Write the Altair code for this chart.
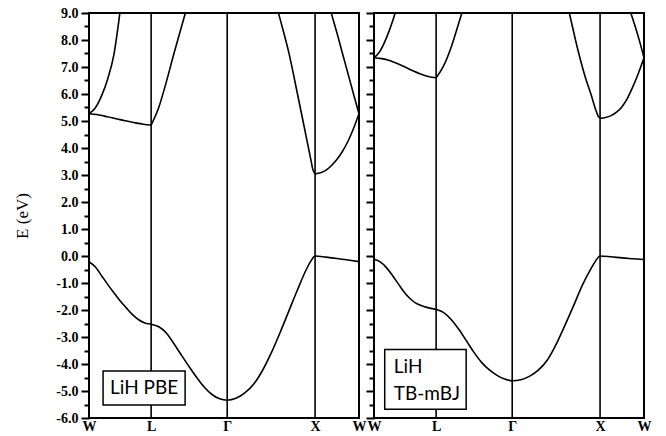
import altair as alt
import pandas as pd

# fcc high-symmetry path W–L–Γ–X–W, cumulative |k| in units of 2π/a
K_LABELS = ["W", "L", "Γ", "X", "W"]
K_NODES = [0.0, 0.7071, 1.5731, 2.5731, 3.0731]

# energy ticks (eV)
E_MAJOR = [-6.0, -5.0, -4.0, -3.0, -2.0, -1.0, 0.0, 1.0, 2.0, 3.0, 4.0, 5.0, 6.0, 7.0, 8.0, 9.0]

# fractional positions along a path segment
F10 = [0.0, 0.1, 0.2, 0.3, 0.4, 0.5, 0.6, 0.7, 0.8, 0.9, 1.0]
F8 = [0.0, 0.125, 0.25, 0.375, 0.5, 0.625, 0.75, 0.875, 1.0]
F_GX = [0.0, 0.1, 0.2, 0.3, 0.4, 0.5, 0.6, 0.7, 0.8, 0.9, 0.95, 1.0]
F_XW = [0.0, 0.25, 0.5, 0.75, 1.0]

# ---- LiH, PBE ----
PBE_VB_WL = [-0.21, -0.40, -0.72, -1.05, -1.36, -1.66, -1.92, -2.17, -2.36, -2.48, -2.53]
PBE_VB_LG = [-2.53, -2.62, -2.85, -3.25, -3.68, -4.10, -4.50, -4.86, -5.13, -5.29, -5.34]
PBE_VB_GX = [-5.34, -5.27, -5.07, -4.75, -4.25, -3.60, -2.85, -2.05, -1.25, -0.50, -0.20, 0.0]
PBE_VB_XW = [0.0, -0.04, -0.09, -0.15, -0.21]

PBE_CB_WL_LOW = [5.27, 5.24, 5.18, 5.12, 5.05, 4.99, 4.93, 4.88, 4.85]
PBE_F_WL_UP = [0.0, 0.1, 0.2, 0.3, 0.4, 0.5, 0.52]
PBE_CB_WL_UP = [5.27, 5.48, 5.92, 6.55, 7.45, 9.05, 9.4]
PBE_F_LG = [0.0, 0.1, 0.2, 0.3, 0.4, 0.5]
PBE_CB_LG = [4.85, 5.5, 6.45, 7.5, 8.5, 9.5]
PBE_F_GX_CB = [0.55, 0.6, 0.7, 0.8, 0.9, 0.95, 0.975, 1.0]
PBE_CB_GX = [9.4, 8.8, 7.55, 6.0, 4.4, 3.6, 3.2, 3.04]
PBE_CB_XW = [3.04, 3.08, 3.18, 3.35, 3.58, 3.88, 4.25, 4.72, 5.27]
PBE_F_WX = [0.3, 0.4, 0.5, 0.6, 0.7, 0.8, 0.9, 1.0]
PBE_CB_WX = [9.4, 8.82, 8.25, 7.65, 7.05, 6.45, 5.85, 5.27]

# ---- LiH, TB-mBJ ----
MBJ_VB_WL = [-0.12, -0.22, -0.43, -0.73, -1.06, -1.38, -1.62, -1.78, -1.87, -1.93, -1.98]
MBJ_VB_LG = [-1.98, -2.10, -2.36, -2.72, -3.15, -3.58, -3.95, -4.22, -4.42, -4.56, -4.62]
MBJ_VB_GX = [-4.62, -4.58, -4.45, -4.22, -3.85, -3.27, -2.57, -1.83, -1.07, -0.45, -0.18, 0.0]
MBJ_VB_XW = [0.0, -0.03, -0.07, -0.10, -0.13]

MBJ_CB_WL_LOW = [7.34, 7.31, 7.24, 7.13, 7.0, 6.86, 6.74, 6.65, 6.6]
MBJ_F_WL_UP = [0.0, 0.1, 0.2, 0.3, 0.36]
MBJ_CB_WL_UP = [7.34, 7.6, 8.08, 8.7, 9.15]
MBJ_F_LG = [0.0, 0.1, 0.2, 0.3, 0.36]
MBJ_CB_LG = [6.6, 7.05, 7.75, 8.65, 9.2]
MBJ_F_GX_CB = [0.6, 0.65, 0.75, 0.83, 0.9, 0.95, 0.975, 1.0]
MBJ_CB_GX = [9.7, 9.0, 7.6, 6.64, 5.95, 5.42, 5.2, 5.1]
MBJ_CB_XW = [5.1, 5.13, 5.2, 5.33, 5.53, 5.85, 6.28, 6.78, 7.34]
MBJ_F_WX = [0.65, 0.7, 0.8, 0.9, 1.0]
MBJ_CB_WX = [9.25, 9.0, 8.5, 7.95, 7.34]

SERIF = "Liberation Serif"
SANS = "Lato"


def seg_k(seg, fracs):
    a, b = K_NODES[seg], K_NODES[seg + 1]
    return [a + f * (b - a) for f in fracs]


def piece(name, seg, fracs, energies):
    return pd.DataFrame({"band": name, "k": seg_k(seg, fracs), "E": energies})


def valence(name, wl, lg, gx, xw):
    parts = [
        piece(name, 0, F10, wl),
        piece(name, 1, F10[1:], lg[1:]),
        piece(name, 2, F_GX[1:], gx[1:]),
        piece(name, 3, F_XW[1:], xw[1:]),
    ]
    return pd.concat(parts, ignore_index=True)


pbe = pd.concat([
    valence("vb", PBE_VB_WL, PBE_VB_LG, PBE_VB_GX, PBE_VB_XW),
    piece("c1", 0, F8, PBE_CB_WL_LOW),
    piece("c2", 0, PBE_F_WL_UP, PBE_CB_WL_UP),
    piece("c3", 1, PBE_F_LG, PBE_CB_LG),
    piece("c4", 2, PBE_F_GX_CB, PBE_CB_GX),
    piece("c5", 3, F8, PBE_CB_XW),
    piece("c6", 3, PBE_F_WX, PBE_CB_WX),
], ignore_index=True)

mbj = pd.concat([
    valence("vb", MBJ_VB_WL, MBJ_VB_LG, MBJ_VB_GX, MBJ_VB_XW),
    piece("c1", 0, F8, MBJ_CB_WL_LOW),
    piece("c2", 0, MBJ_F_WL_UP, MBJ_CB_WL_UP),
    piece("c3", 1, MBJ_F_LG, MBJ_CB_LG),
    piece("c4", 2, MBJ_F_GX_CB, MBJ_CB_GX),
    piece("c5", 3, F8, MBJ_CB_XW),
    piece("c6", 3, MBJ_F_WX, MBJ_CB_WX),
], ignore_index=True)

# label boxes, in (k, E) coordinates
pbe_box = pd.DataFrame({"k1": [0.16], "k2": [1.094], "E1": [-5.52], "E2": [-4.26]})
pbe_text = pd.DataFrame({"k": [0.627], "E": [-4.89], "t": ["LiH PBE"]})
mbj_box = pd.DataFrame({"k1": [0.122], "k2": [1.049], "E1": [-5.68], "E2": [-3.46]})
mbj_text = pd.DataFrame({"k": [0.225, 0.225], "E": [-4.34, -5.33], "t": ["LiH", "TB-mBJ"]})

E_MINOR = sorted(set(E_MAJOR + [e + 0.5 for e in E_MAJOR[:-1]]))

k_label_expr = ""
for kv, lab in zip(K_NODES[:-1], K_LABELS[:-1]):
    k_label_expr += f"datum.value < {kv + 0.05} ? '{lab}' : "
k_label_expr += f"'{K_LABELS[-1]}'"

x_scale = alt.Scale(domain=[K_NODES[0], K_NODES[-1]], nice=False, zero=False)
y_scale = alt.Scale(domain=[E_MAJOR[0], E_MAJOR[-1]], nice=False, zero=False)

x_axis = alt.Axis(
    values=K_NODES, labelExpr=k_label_expr, tickSize=0, labelPadding=1,
    labelFont=SERIF, labelFontSize=14, labelFontWeight="bold", labelColor="black",
    labelFlush=False, labelOverlap=False, domain=False, grid=False, title=None,
)

# half-step ticks are drawn shorter through a dash pattern
tick_dash = {"condition": {"test": "datum.value % 1 !== 0", "value": [5, 20]}, "value": [20, 0]}
e_label_expr = ("datum.value % 1 === 0 ? (datum.value < 0 ? '-' : '') + "
                "format(abs(datum.value), '.1f') : ''")


def y_axis(with_labels):
    common = dict(
        values=E_MINOR, tickSize=8, tickDash=tick_dash, tickWidth=2, tickColor="black",
        domain=False, grid=False, labelOverlap=False,
    )
    if with_labels:
        return alt.Axis(
            labelExpr=e_label_expr, labelFont=SERIF, labelFontSize=14,
            labelFontWeight="bold", labelColor="black", labelPadding=3,
            title="E (eV)", titleFont=SERIF, titleFontSize=17,
            titleFontWeight="normal", titleColor="black", titlePadding=24,
            **common,
        )
    return alt.Axis(labels=False, title=None, **common)


def panel(bands, box, text, with_labels, text_align):
    ya = y_axis(with_labels)

    def kx(field):
        return alt.X(field, type="quantitative", scale=x_scale, axis=x_axis, title=None)

    def ey(field):
        return alt.Y(field, type="quantitative", scale=y_scale, axis=ya,
                     title="E (eV)" if with_labels else None)

    rules = alt.Chart(pd.DataFrame({"k": K_NODES[1:4]})).mark_rule(
        color="black", strokeWidth=1.6
    ).encode(x=kx("k"))
    lines = alt.Chart(bands).mark_line(
        color="black", strokeWidth=1.6, interpolate="monotone", clip=True
    ).encode(x=kx("k"), y=ey("E"), detail="band:N")
    rect = alt.Chart(box).mark_rect(
        fill="white", stroke="black", strokeWidth=1.5
    ).encode(x=kx("k1"), x2="k2", y=ey("E1"), y2="E2")
    label = alt.Chart(text).mark_text(
        font=SANS, fontSize=19, color="black", align=text_align,
        baseline="middle" if text_align == "center" else "alphabetic",
    ).encode(x=kx("k"), y=ey("E"), text="t:N")
    return alt.layer(rules, lines, rect, label).properties(width=270, height=405)


left = panel(pbe, pbe_box, pbe_text, True, "center")
right = panel(mbj, mbj_box, mbj_text, False, "left")

chart = alt.hconcat(left, right, spacing=15, bounds="flush").properties(
    padding={"left": 12, "top": 5, "right": 5, "bottom": 0}
).configure_view(stroke="black", strokeWidth=2)

chart.save("out.html", embed_options={"renderer": "svg", "actions": False})
